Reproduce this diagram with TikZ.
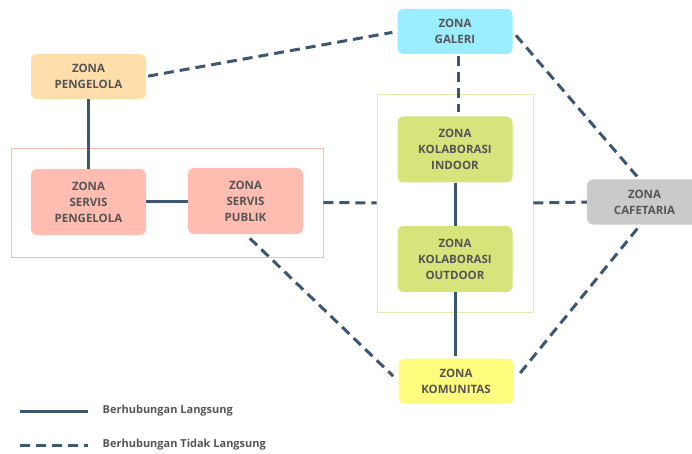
\documentclass[tikz,border=0pt]{standalone}
\usepackage{fontspec}
\setmainfont{Open Sans}
\definecolor{linkblue}{HTML}{3D5674}
\definecolor{labelgrey}{HTML}{555555}
\definecolor{pengfill}{HTML}{FFDEAC}
\definecolor{servfill}{HTML}{FFBCB0}
\definecolor{galfill}{HTML}{9BEEFF}
\definecolor{kolfill}{HTML}{D7E37B}
\definecolor{caffill}{HTML}{C9CACC}
\definecolor{komfill}{HTML}{FFFB7C}
\definecolor{redframe}{HTML}{F4B9AF}
\definecolor{greenframe}{HTML}{E3ECAF}
\tikzset{
  zone/.style={rounded corners=6pt, minimum width=115pt, minimum height=45pt,
    align=center, inner sep=0pt, text=labelgrey,
    font=\bfseries\fontsize{11.5}{16}\selectfont},
  tall/.style={minimum height=66pt},
  frame/.style={draw, line width=0.8pt, inner sep=0pt},
  direct/.style={draw=linkblue, line width=3pt},
  indirect/.style={draw=linkblue, line width=3pt, dash pattern=on 10pt off 6pt},
  legendtext/.style={anchor=west, text=labelgrey, inner sep=0pt,
    font=\bfseries\fontsize{11}{13}\selectfont}
}
\begin{document}
\begin{tikzpicture}[x=1pt,y=-1pt]
\useasboundingbox (0,0) rectangle (692,454);

% group frames
\node[frame, draw=redframe, minimum width=312pt, minimum height=109pt] (redgrp) at (167,202.5) {};
\node[frame, draw=greenframe, minimum width=156pt, minimum height=218pt] (greengrp) at (455,203) {};

% zones
\node[zone, fill=pengfill] (peng) at (88.5,76.5) {ZONA\\PENGELOLA};
\node[zone, tall, fill=servfill] (spk) at (88.5,202) {ZONA\\SERVIS\\PENGELOLA};
\node[zone, tall, fill=servfill] (spb) at (245.5,201) {ZONA\\SERVIS\\PUBLIK};
\node[zone, fill=galfill] (gal) at (455,31.5) {ZONA\\GALERI};
\node[zone, tall, fill=kolfill] (kin) at (455,149.5) {ZONA\\KOLABORASI\\INDOOR};
\node[zone, tall, fill=kolfill] (kout) at (455,259) {ZONA\\KOLABORASI\\OUTDOOR};
\node[zone, fill=caffill] (caf) at (644.5,202) {ZONA\\CAFETARIA};
\node[zone, fill=komfill] (kom) at (456,381) {ZONA\\KOMUNITAS};

% direct links
\draw[direct] (peng.south) -- (spk.north);
\draw[direct] (spk.east) -- (spb.west |- spk.east);
\draw[direct] (kin.south) -- (kout.north);
\draw[direct] (kout.south) -- ([yshift=2pt]kout.south |- kom.north);

% indirect links
\draw[indirect, shorten <=2pt, shorten >=5pt] (peng.east) -- (gal.west);
\draw[indirect, shorten <=2pt, shorten >=4pt] ([xshift=3pt]gal.south) -- ([xshift=3pt]kin.north);
\draw[indirect] (redgrp.east) -- (greengrp.west);
\draw[indirect] (greengrp.east) -- (caf.west);
\draw[indirect, shorten <=5pt, shorten >=3pt] (gal.east) -- ([xshift=-5pt]caf.north);
\draw[indirect, shorten <=5pt, shorten >=6pt] ([xshift=-4pt]caf.south) -- (kom.east);
\draw[indirect, shorten <=6pt, shorten >=7pt] (spb.south) -- (kom.west);

% legend
\coordinate (l1a) at (20,411.5);
\coordinate (l1b) at (88,411.5);
\coordinate (l2a) at (20,445.5);
\coordinate (l2b) at (88,445.5);
\draw[direct] (l1a) -- (l1b);
\draw[indirect] (l2a) -- (l2b);
\node[legendtext] (lt1) at (102.5,411) {Berhubungan Langsung};
\node[legendtext] (lt2) at (102.5,445) {Berhubungan Tidak Langsung};
\end{tikzpicture}
\end{document}
